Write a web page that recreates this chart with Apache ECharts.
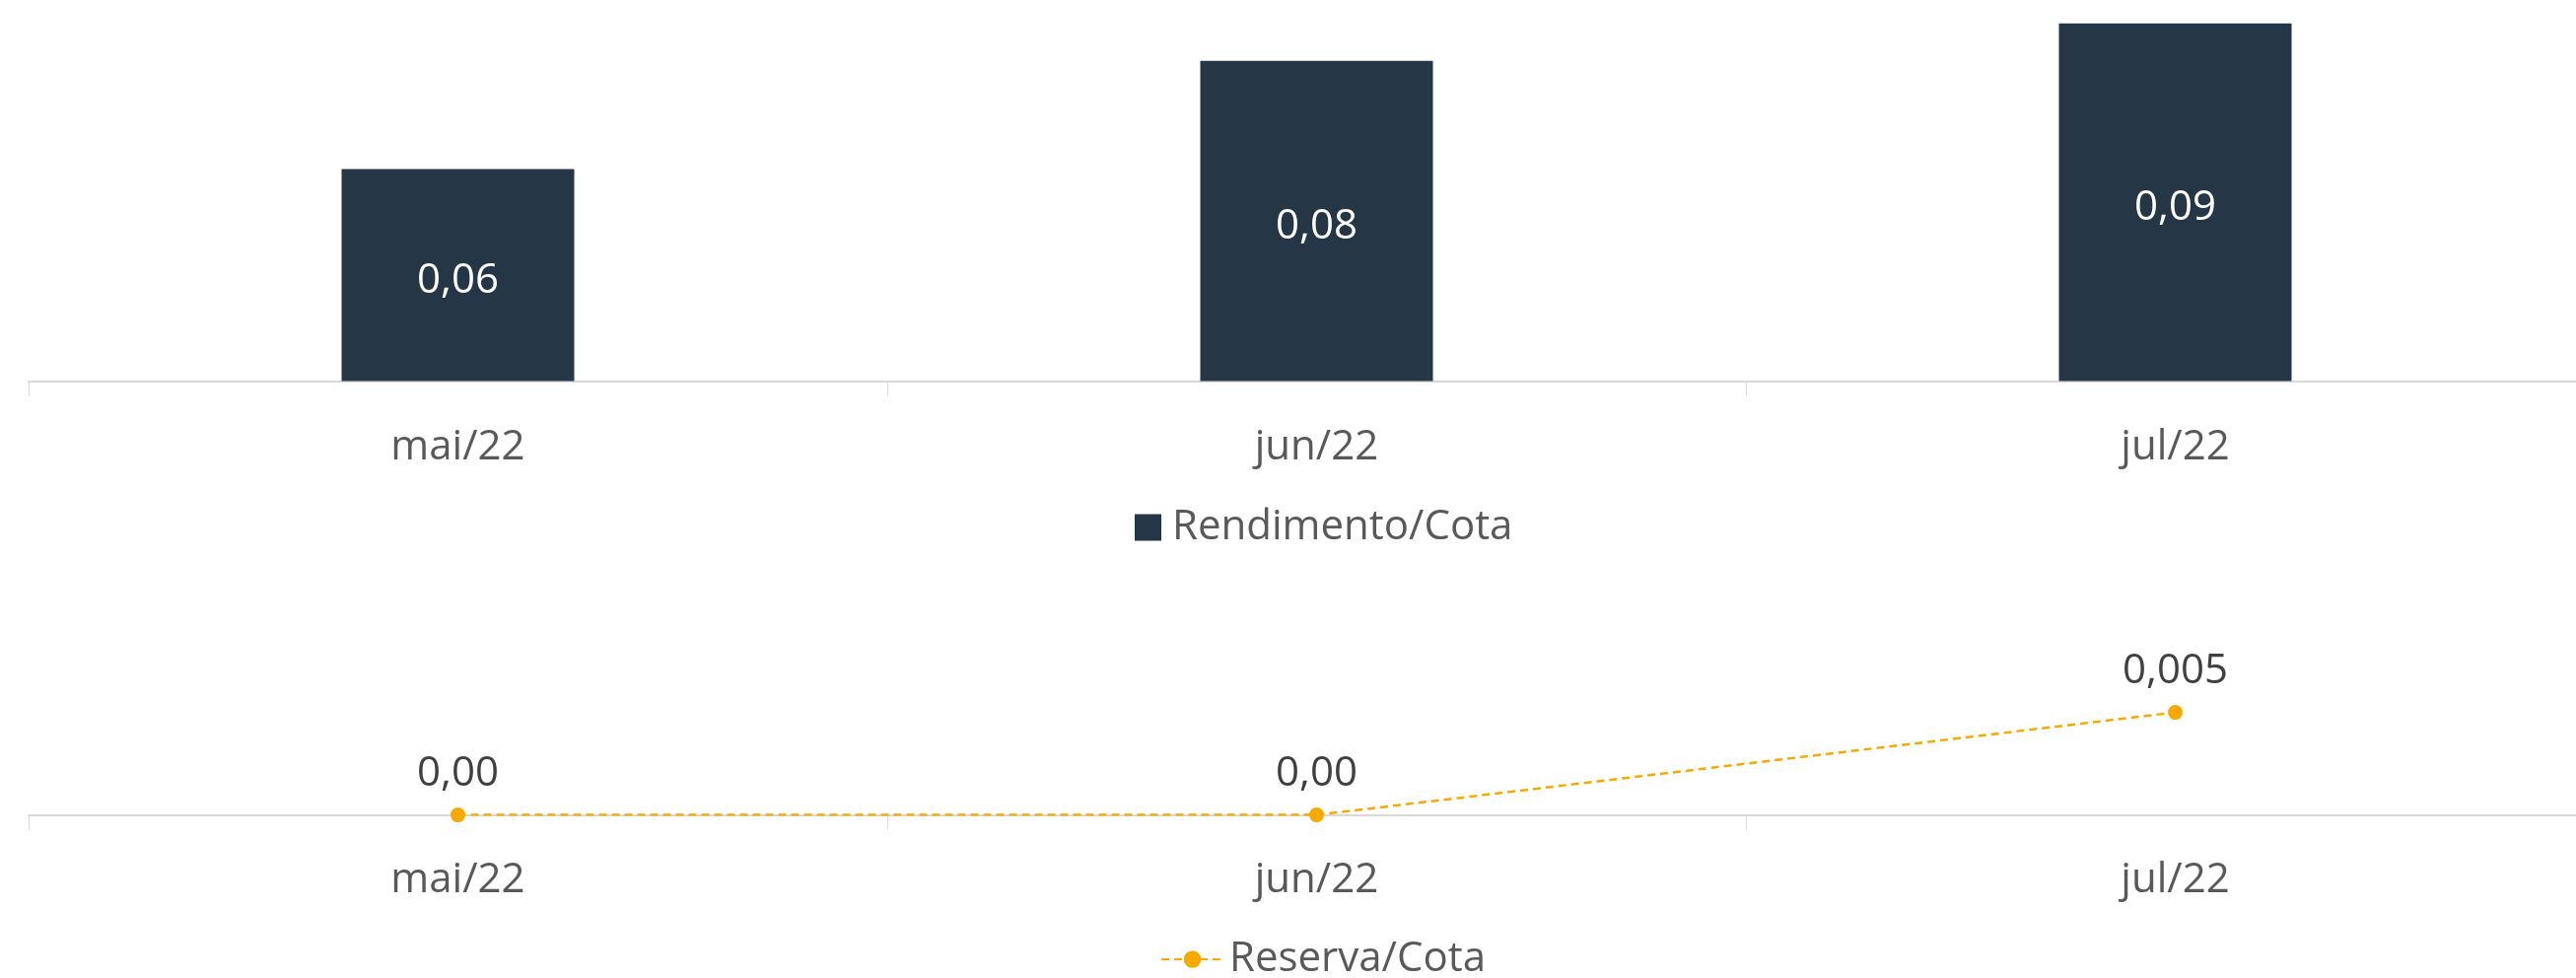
<!DOCTYPE html>
<html>
<head>
<meta charset="utf-8">
<script src="https://cdn.jsdelivr.net/npm/echarts@6/dist/echarts.min.js"></script>
<style>
    html, body { margin: 0; padding: 0; background: #fff; }
    #chart { width: 2613px; height: 992px; }
</style>
</head>
<body>
<div id="chart"></div>
<script>
const months = ['mai/22', 'jun/22', 'jul/22'];
const rendimento = [0.0555, 0.08, 0.0885];
const reserva = [0, 0, 0.005];

const FONT = '"Open Sans", "Noto Sans", sans-serif';
const NAVY = '#253747';
const GOLD = '#F6AA00';
const AXIS_GRAY = '#D9D9D9';

function fmtComma(v, digits) {
    return v.toFixed(digits).replace('.', ',');
}

function buildXAxis(gridIndex, margin) {
    return {
        type: 'category',
        gridIndex: gridIndex,
        data: months,
        boundaryGap: true,
        axisLine: { lineStyle: { color: AXIS_GRAY, width: 2 } },
        axisTick: { show: true, length: 15, lineStyle: { color: AXIS_GRAY, width: 1 } },
        axisLabel: { margin: margin, fontSize: 42, color: '#595959', fontFamily: FONT }
    };
}

const chart = echarts.init(document.getElementById('chart'));

// the plot area runs a little past the right edge of the picture
chart.setOption({
    animation: false,
    backgroundColor: '#ffffff',
    grid: [
        { left: 29, width: 2613, top: 17, height: 369.6, outerBoundsMode: 'none', containLabel: false },
        { left: 29, width: 2613, top: 618.6, height: 208, outerBoundsMode: 'none', containLabel: false }
    ],
    xAxis: [buildXAxis(0, 46), buildXAxis(1, 45)],
    yAxis: [
        { type: 'value', gridIndex: 0, min: 0.0075, max: 0.09, show: false, splitLine: { show: false } },
        { type: 'value', gridIndex: 1, min: 0, max: 0.01, show: false, splitLine: { show: false } }
    ],
    legend: [
        {
            data: ['Rendimento/Cota'],
            left: 1146,
            top: 509,
            itemWidth: 27,
            itemHeight: 27,
            icon: 'rect',
            textStyle: { fontSize: 42, color: '#595959', fontFamily: FONT, padding: [0, 0, 0, 6] }
        },
        {
            data: ['Reserva/Cota'],
            left: 1172,
            top: 947,
            itemWidth: 63,
            itemHeight: 22,
            textStyle: { fontSize: 42, color: '#595959', fontFamily: FONT, padding: [0, 0, 0, 1] }
        }
    ],
    series: [
        {
            name: 'Rendimento/Cota',
            type: 'bar',
            xAxisIndex: 0,
            yAxisIndex: 0,
            data: rendimento,
            barWidth: 236,
            itemStyle: { color: NAVY },
            label: {
                show: true,
                position: 'inside',
                offset: [0, 6],
                color: '#ffffff',
                fontSize: 42,
                fontFamily: FONT,
                formatter: p => fmtComma(p.value, 2)
            }
        },
        {
            name: 'Reserva/Cota',
            type: 'line',
            xAxisIndex: 1,
            yAxisIndex: 1,
            data: reserva,
            symbol: 'circle',
            symbolSize: 15,
            showSymbol: true,
            itemStyle: { color: GOLD },
            lineStyle: { color: GOLD, width: 2.5, type: [8, 5] },
            label: {
                show: true,
                position: 'top',
                distance: 13,
                color: '#404040',
                fontSize: 42,
                fontFamily: FONT,
                formatter: p => fmtComma(p.value, p.value === 0 ? 2 : 3)
            }
        }
    ]
});
</script>
</body>
</html>
